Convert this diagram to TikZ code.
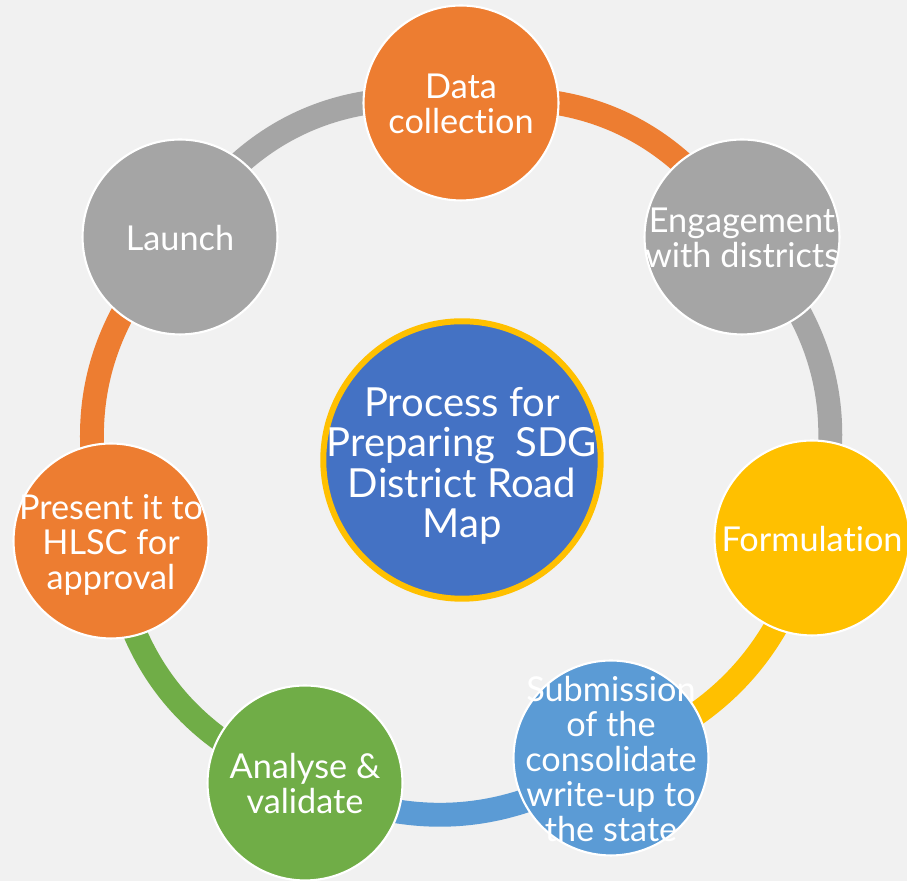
\documentclass[tikz,border=0pt]{standalone}
\usepackage{fontspec}
\setmainfont{Lato}[Ligatures=NoCommon]
\usepackage{xcolor}
\usepackage{tikz}
\definecolor{sdgOrange}{HTML}{ED7D31}
\definecolor{sdgGray}{HTML}{A5A5A5}
\definecolor{sdgYellow}{HTML}{FFC000}
\definecolor{sdgBlue}{HTML}{4472C4}
\definecolor{sdgSky}{HTML}{5B9BD5}
\definecolor{sdgGreen}{HTML}{70AD47}
\definecolor{sdgPaper}{HTML}{F1F1F1}
\pgfdeclarelayer{paper}
\pgfdeclarelayer{ring}
\pgfsetlayers{paper,ring,main}
% text that does not grow the circle
\newcommand{\lines}[1]{\smash{\raisebox{-0.43em}{\begin{tabular}{@{}c@{}}#1\end{tabular}}}}
\tikzset{
  stage/.style={
    circle,
    draw=white,
    line width=1.2pt,
    minimum size=3.9cm,
    inner sep=0pt,
    text=white,
    font=\fontsize{19.5}{18.4}\selectfont
  },
  hub/.style={
    circle,
    draw=sdgYellow,
    fill=sdgBlue,
    line width=3.4pt,
    minimum size=5.55cm,
    inner sep=0pt,
    text=white,
    font=\fontsize{22.8}{21.2}\selectfont
  },
  link/.style={line width=13.6pt, line cap=butt}
}

\begin{document}
\begin{tikzpicture}[x=0.02cm, y=0.02cm]
  \useasboundingbox (0,0) rectangle (907,881);
  \begin{pgfonlayer}{paper}
    \fill[sdgPaper] (0,0) rectangle (907,881);
  \end{pgfonlayer}

  \node[hub] (hub) at (462,421) {\lines{Process for\\Preparing~~SDG\\District Road\\Map}};
  \node[stage, fill=sdgOrange] (data) at (461,778) {\lines{Data\\collection}};
  \node[stage, fill=sdgGray] (engage) at (742,644) {\lines{Engagement\\with districts}};
  \node[stage, fill=sdgYellow] (formul) at (812,343) {\lines{Formulation}};
  \node[stage, fill=sdgSky] (submit) at (611,123) {\lines{Submission\\of the\\consolidate\\write-up to\\the state}};
  \node[stage, fill=sdgGreen] (analyse) at (305,98) {\lines{Analyse \&\\validate}};
  \node[stage, fill=sdgOrange] (present) at (111,340) {\lines{Present it to\\HLSC for\\approval}};
  \node[stage, fill=sdgGray] (launch) at (180,644) {\lines{Launch}};

  \begin{pgfonlayer}{ring}
    \draw[link, sdgGray] (launch.center) to[bend left=34] (data.center);
    \draw[link, sdgOrange] (data.center) to[bend left=34] (engage.center);
    \draw[link, sdgGray] (engage.center) to[bend left=32] (formul.center);
    \draw[link, sdgYellow] (formul.center) to[bend left=27] (submit.center);
    \draw[link, sdgSky] (submit.center) to[bend left=29] (analyse.center);
    \draw[link, sdgGreen] (analyse.center) to[bend left=32] (present.center);
    \draw[link, sdgOrange] (present.center) to[bend left=32] (launch.center);
  \end{pgfonlayer}
\end{tikzpicture}
\end{document}
